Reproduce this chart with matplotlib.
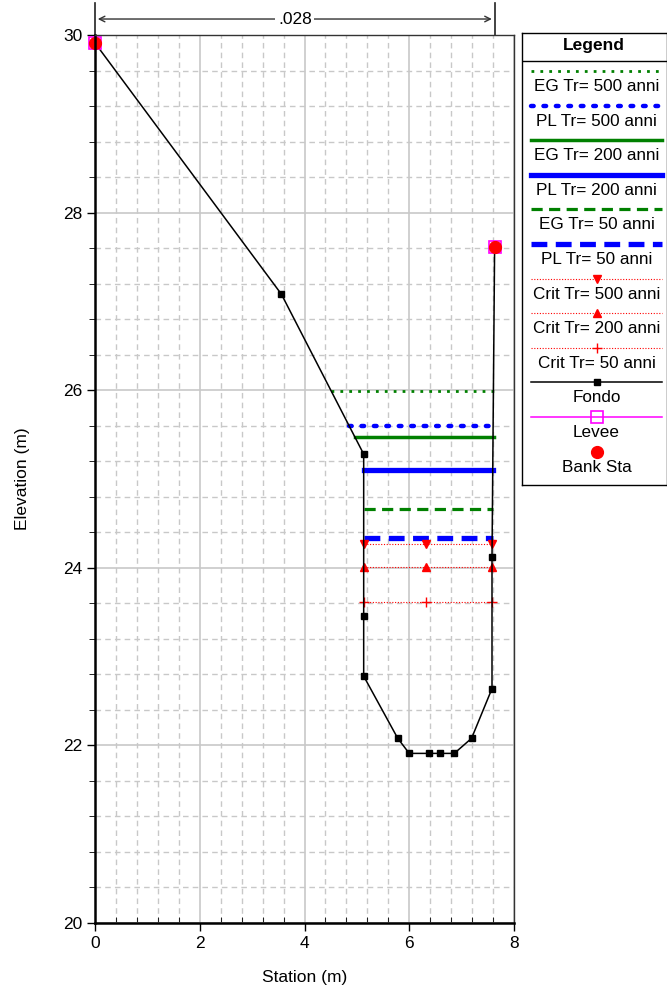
import numpy as np
import matplotlib
matplotlib.use("Agg")
import matplotlib.pyplot as plt
from matplotlib.ticker import MultipleLocator

plt.rcParams['font.family'] = ['Liberation Sans', 'DejaVu Sans']

# ground profile (Fondo)
sta = [0.0, 3.56, 5.13, 5.13, 5.13, 5.78, 6.0, 6.38, 6.58, 6.86, 7.19, 7.58, 7.58, 7.63]
elev = [29.91, 27.08, 25.28, 23.46, 22.78, 22.08, 21.91, 21.91, 21.91, 21.91, 22.08, 22.64, 24.12, 27.61]

# bank stations / levee
bank_sta = [0.0, 7.63]
bank_elev = [29.91, 27.61]

# water surfaces
eg500_x, eg500_y = [4.50, 7.615], 25.99
pl500_x, pl500_y = [4.85, 7.61], 25.60
eg200_x, eg200_y = [4.97, 7.61], 25.47
pl200_x, pl200_y = [5.13, 7.60], 25.10
eg50_x, eg50_y = [5.13, 7.60], 24.66
pl50_x, pl50_y = [5.13, 7.60], 24.34
crit_x = [5.13, 6.32, 7.58]
crit500_y = 24.27
crit200_y = 24.01
crit50_y = 23.61

# manning n
n_label = ".028"
n_bounds = [0.0, 7.63]

green = '#008000'
blue = '#0000ff'
red = '#ff0000'

series = [
    ("EG Tr= 500 anni", eg500_x, [eg500_y] * 2, dict(color=green, lw=2, ls=(0, (1, 2.2)))),
    ("PL Tr= 500 anni", pl500_x, [pl500_y] * 2, dict(color=blue, lw=3.2, ls=(0, (0.6, 2.2)), dash_capstyle='round')),
    ("EG Tr= 200 anni", eg200_x, [eg200_y] * 2, dict(color=green, lw=2.5, ls='-')),
    ("PL Tr= 200 anni", pl200_x, [pl200_y] * 2, dict(color=blue, lw=3.8, ls='-')),
    ("EG Tr= 50 anni", eg50_x, [eg50_y] * 2, dict(color=green, lw=2.3, ls=(0, (3.5, 2)))),
    ("PL Tr= 50 anni", pl50_x, [pl50_y] * 2, dict(color=blue, lw=3.8, ls=(0, (3, 1.6)))),
    ("Crit Tr= 500 anni", crit_x, [crit500_y] * 3, dict(color=red, lw=0.8, ls=(0, (1, 1.5)), marker='v', ms=6)),
    ("Crit Tr= 200 anni", crit_x, [crit200_y] * 3, dict(color=red, lw=0.8, ls=(0, (1, 1.5)), marker='^', ms=6)),
    ("Crit Tr= 50 anni", crit_x, [crit50_y] * 3, dict(color=red, lw=0.8, ls=(0, (1, 1.5)), marker='+', ms=7, mew=1)),
]

fondo_style = dict(color='black', lw=1.1, marker='s', ms=4)
levee_style = dict(color='#ff00ff', lw=1.1, marker='s', ms=8.5, mfc='none', mec='#ff00ff', mew=1.2)
bank_style = dict(color=red, marker='o', ms=8.5, ls='none')

fig = plt.figure(figsize=(6.67, 9.86), dpi=100)
ax = fig.add_axes([95 / 667, 63 / 986, 419 / 667, 888 / 986])

for label, xs, ys, st in series:
    ax.plot(xs, ys, **st)
ax.plot(sta, elev, **fondo_style)
ax.plot(bank_sta, bank_elev, ls='none', marker='s', ms=8, mfc='none', mec='#ff00ff', mew=1.2, clip_on=False)
ax.plot(bank_sta, bank_elev, clip_on=False, **bank_style)

ax.set_xlim(0, 8)
ax.set_ylim(20, 30)
ax.xaxis.set_major_locator(MultipleLocator(2))
ax.yaxis.set_major_locator(MultipleLocator(2))
ax.xaxis.set_minor_locator(MultipleLocator(0.4))
ax.yaxis.set_minor_locator(MultipleLocator(0.4))
ax.grid(which='major', color='#c8c8c8', lw=1.2, ls='-')
ax.grid(which='minor', color='#c8c8c8', lw=1.0, ls=(0, (4, 3)))
ax.set_axisbelow(True)
ax.tick_params(which='major', direction='out', length=6, labelsize=12.5, width=1, pad=3)
ax.tick_params(axis='x', which='minor', direction='in', length=4)
ax.tick_params(axis='y', which='minor', direction='out', length=4)
for s in ['left', 'bottom']:
    ax.spines[s].set_linewidth(1.8)
for s in ['top', 'right']:
    ax.spines[s].set_linewidth(1.0)
    ax.spines[s].set_color('#333333')
ax.set_xlabel("Station (m)", fontsize=12.5, labelpad=14)
ax.set_ylabel("Elevation (m)", fontsize=12.5, labelpad=24)

# manning n dimension line
for xb in n_bounds:
    ax.plot([xb, xb], [30, 30.36], color='#222222', lw=1.2, clip_on=False)
ax.annotate("", xy=(n_bounds[0], 30.18), xytext=(n_bounds[1], 30.18),
            arrowprops=dict(arrowstyle='<->', color='#333333', lw=1.0), annotation_clip=False)
ax.text(np.mean(n_bounds), 30.18, n_label, ha='center', va='center', fontsize=12.5,
        bbox=dict(facecolor='white', edgecolor='none', pad=2), clip_on=False)

# legend box
lax = fig.add_axes([522 / 667, 501 / 986, 145 / 667, 452 / 986])
lax.set_xlim(0, 145)
lax.set_ylim(452, 0)
lax.set_xticks([])
lax.set_yticks([])
for s in lax.spines.values():
    s.set_linewidth(1.0)
lax.text(72, 13, "Legend", ha='center', va='center', fontsize=12.5, fontweight='bold')
lax.plot([0, 145], [28, 28], color='black', lw=1.0)

entries = [(lab, st) for lab, _, _, st in series]
entries.append(("Fondo", fondo_style))
entries.append(("Levee", levee_style))
entries.append(("Bank Sta", bank_style))
lx = [9, 140]
for i, (lab, st) in enumerate(entries):
    yl = 38 + i * 34.6
    if lab == "Bank Sta":
        lax.plot([np.mean(lx)], [yl], **st)
    else:
        st2 = dict(st)
        if 'marker' in st2:
            lax.plot(lx, [yl, yl], **{k: v for k, v in st2.items() if k not in ('marker', 'ms', 'mfc', 'mec', 'mew')})
            lax.plot([np.mean(lx)], [yl], ls='none', marker=st2['marker'], ms=st2.get('ms', 6),
                     color=st2['color'], mfc=st2.get('mfc', st2['color']), mec=st2.get('mec', st2['color']),
                     mew=st2.get('mew', 1))
        else:
            lax.plot(lx, [yl, yl], **st2)
    lax.text(np.mean(lx), yl + 15.5, lab, ha='center', va='center', fontsize=12.3)

fig.savefig("out.png", dpi=100)
